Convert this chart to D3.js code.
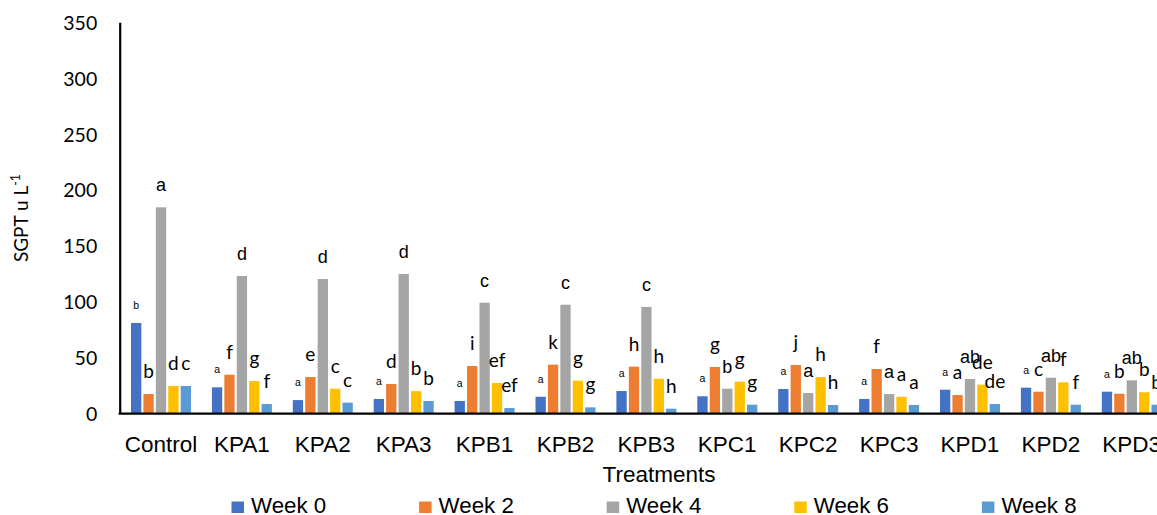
<!DOCTYPE html>
<html>
<head>
<meta charset="utf-8">
<script src="https://cdn.jsdelivr.net/npm/d3@7"></script>
<style>
  html, body { margin: 0; padding: 0; background: #fff; overflow: hidden; }
  svg { display: block; }
</style>
</head>
<body>
<svg id="chart" width="1157" height="515"></svg>
<script>
const categories = ["Control","KPA1","KPA2","KPA3","KPB1","KPB2","KPB3","KPC1","KPC2","KPC3","KPD1","KPD2","KPD3"];
const seriesNames = ["Week 0","Week 2","Week 4","Week 6","Week 8"];
const week0 = [81, 23.4, 12, 13, 11.2, 15, 20.1, 15.4, 21.9, 13, 21.3, 23.1, 19.5];
const week2 = [17.4, 34.7, 32.6, 26.4, 42.5, 43.7, 41.9, 41.6, 43.4, 39.8, 16.5, 19.5, 17.7];
const week4 = [184.4, 123, 120.3, 124.8, 99.1, 97.3, 95.3, 22.2, 18.3, 17.4, 30.9, 32, 29.7];
const week6 = [24.6, 29, 22.2, 20, 27.3, 29.4, 31.1, 28.5, 32.6, 15, 25.8, 27.9, 19];
const week8 = [24.6, 8.5, 9.7, 11.2, 4.9, 5.5, 4.3, 7.9, 7.6, 7.6, 8.5, 7.9, 7.9];
const labels0 = ["b","a","a","a","a","a","a","a","a","a","a","a","a"];
const labels2 = ["b","f","e","d","i","k","h","g","j","f","a","c","b"];
const labels4 = ["a","d","d","d","c","c","c","b","a","a","ab","ab","ab"];
const labels6 = ["d","g","c","b","ef","g","h","g","h","a","de","f","b"];
const labels8 = ["c","f","c","b","ef","g","h","g","h","a","de","f","b"];
const yTicks = [0, 50, 100, 150, 200, 250, 300, 350];
const yTitle = "SGPT u L";
const yTitleSup = "-1";
const xTitle = "Treatments";

const seriesValues = [week0, week2, week4, week6, week8];
const seriesLabels = [labels0, labels2, labels4, labels6, labels8];
const colors = ["#4472C4", "#ED7D31", "#A5A5A5", "#FFC000", "#5B9BD5"];

const svg = d3.select("#chart");
const left = 120.5, step = 80.9;
const x0 = d3.scaleBand().domain(categories).range([left, left + step * categories.length]).padding(0);
const x1 = d3.scaleBand().domain(seriesNames).range([10.5, 70.5]).paddingInner(0.17).paddingOuter(0);
const y = d3.scaleLinear().domain([0, 350]).range([413.5, 22.2]);

// Bars
seriesNames.forEach((s, si) => {
  const g = svg.append("g");
  g.selectAll("rect").data(categories).join("rect")
    .attr("x", c => x0(c) + x1(s))
    .attr("y", (c, i) => y(seriesValues[si][i]))
    .attr("width", x1.bandwidth())
    .attr("height", (c, i) => y(0) - y(seriesValues[si][i]))
    .attr("fill", colors[si]);
  // significance letters
  g.selectAll("text").data(categories).join("text")
    .attr("x", c => x0(c) + x1(s) + x1.bandwidth() / 2)
    .attr("y", (c, i) => y(seriesValues[si][i]) - (si === 0 ? 14 : 16))
    .attr("text-anchor", "middle")
    .attr("font-family", si === 0 || si === 2 ? "'Liberation Sans', Arial, sans-serif" : "Lato, sans-serif")
    .attr("font-size", si === 0 ? 10.5 : (si === 2 ? 18 : 19))
    .attr("fill", "#000")
    .text((c, i) => seriesLabels[si][i]);
});

// Y axis
const yAxis = svg.append("g").attr("transform", "translate(119.7,0)")
  .call(d3.axisLeft(y).tickValues(yTicks).tickSize(0).tickSizeOuter(0).tickPadding(22.5));
yAxis.select(".domain").attr("stroke", "#000").attr("stroke-width", 2.2);
yAxis.selectAll("text").attr("font-family", "Lato, sans-serif").attr("font-size", 19.5).attr("fill", "#000").attr("dy", "0.36em");

// X axis
const xAxis = svg.append("g").attr("transform", "translate(0,413.6)")
  .call(d3.axisBottom(x0).tickSize(0).tickSizeOuter(0).tickPadding(0));
xAxis.select(".domain").attr("stroke", "#000").attr("stroke-width", 2.4).attr("d", `M118.6,0H${left + step * categories.length}`);
xAxis.selectAll("text").attr("font-family", "'Liberation Sans', Arial, sans-serif").attr("font-size", 22.5)
  .attr("fill", "#000").attr("y", 38).attr("dy", 0);

// Axis titles
svg.append("text").attr("x", 659).attr("y", 481.5).attr("text-anchor", "middle")
  .attr("font-family", "'Liberation Sans', Arial, sans-serif").attr("font-size", 22.5).attr("fill", "#000")
  .text(xTitle);

const yt = svg.append("text").attr("transform", "translate(28,218) rotate(-90)").attr("text-anchor", "middle")
  .attr("font-family", "Lato, sans-serif").attr("font-size", 19).attr("fill", "#000");
yt.append("tspan").text(yTitle);
yt.append("tspan").attr("font-size", 12.5).attr("dy", -8).text(yTitleSup);

// Legend
const legend = svg.append("g");
seriesNames.forEach((s, i) => {
  const lx = 231.5 + i * 187.6;
  legend.append("rect").attr("x", lx).attr("y", 501.5).attr("width", 12.5).attr("height", 11.5).attr("fill", colors[i]);
  legend.append("text").attr("x", lx + 19.5).attr("y", 513).attr("font-family", "'Liberation Sans', Arial, sans-serif")
    .attr("font-size", 22.3).attr("fill", "#000").text(s);
});
</script>
</body>
</html>
